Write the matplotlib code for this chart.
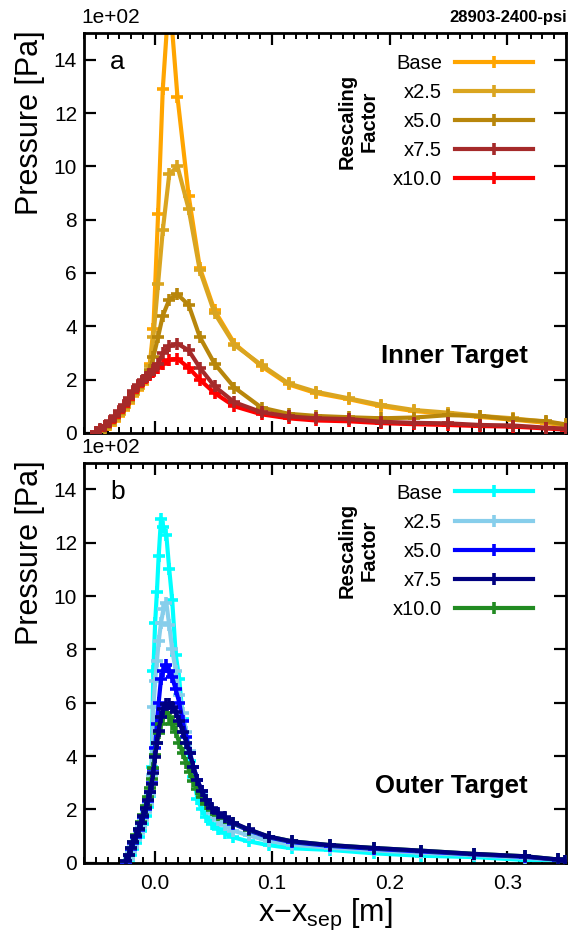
import numpy as np
import matplotlib
matplotlib.use("Agg")
import matplotlib.pyplot as plt
from matplotlib.ticker import MultipleLocator

plt.rcParams['font.family'] = ['Liberation Sans', 'DejaVu Sans']
plt.rcParams['mathtext.fontset'] = 'custom'
plt.rcParams['mathtext.rm'] = 'Liberation Sans'
plt.rcParams['mathtext.it'] = 'Liberation Sans:italic'

# pressure in units of 1e+02 Pa
labels = ['Base', 'x2.5', 'x5.0', 'x7.5', 'x10.0']

x_inner = [-0.050, -0.046, -0.042, -0.038, -0.034, -0.030, -0.026, -0.022, -0.018, -0.014,
           -0.010, -0.007, -0.004, -0.001, 0.003, 0.007, 0.0125, 0.0195, 0.029, 0.0385,
           0.051, 0.068, 0.091, 0.114, 0.137, 0.165, 0.193, 0.221, 0.250, 0.277,
           0.305, 0.333, 0.350]
p_inner_base = [0.0, 0.07, 0.16, 0.30, 0.45, 0.65, 0.87, 1.12, 1.40, 1.62,
                1.85, 2.05, 2.6, 3.9, 8.2, 12.9, 16.5, 12.6, 8.9, 6.2,
                4.6, 3.35, 2.5, 1.82, 1.5, 1.27, 1.0, 0.82, 0.72, 0.6,
                0.5, 0.38, 0.27]
p_inner_x25 = [0.0, 0.08, 0.18, 0.32, 0.48, 0.68, 0.9, 1.15, 1.42, 1.65,
               1.88, 2.05, 2.5, 3.6, 5.6, 7.6, 9.7, 10.0, 8.4, 6.1,
               4.5, 3.3, 2.55, 1.86, 1.55, 1.30, 1.05, 0.86, 0.76, 0.64,
               0.55, 0.42, 0.30]
p_inner_x50 = [0.0, 0.1, 0.22, 0.38, 0.55, 0.75, 0.98, 1.22, 1.5, 1.72,
               1.95, 2.1, 2.35, 2.85, 3.6, 4.4, 5.0, 5.2, 4.8, 3.6,
               2.6, 1.7, 0.95, 0.72, 0.64, 0.59, 0.55, 0.58, 0.67, 0.64,
               0.51, 0.44, 0.32]
p_inner_x75 = [0.03, 0.15, 0.28, 0.45, 0.62, 0.82, 1.05, 1.3, 1.58, 1.8,
               1.98, 2.1, 2.2, 2.35, 2.6, 3.0, 3.25, 3.35, 3.1, 2.45,
               1.75, 1.15, 0.78, 0.62, 0.55, 0.52, 0.42, 0.38, 0.36, 0.30,
               0.28, 0.20, 0.16]
p_inner_x100 = [0.02, 0.13, 0.26, 0.42, 0.6, 0.8, 1.02, 1.28, 1.55, 1.78,
                1.96, 2.08, 2.18, 2.3, 2.45, 2.6, 2.75, 2.78, 2.45, 2.0,
                1.5, 1.0, 0.7, 0.55, 0.47, 0.44, 0.37, 0.33, 0.30, 0.26,
                0.24, 0.17, 0.13]

x_outer = [-0.024, -0.022, -0.020, -0.018, -0.0156, -0.0135, -0.0114, -0.0095, -0.0075, -0.0057,
           -0.004, -0.0025, -0.001, 0.0005, 0.002, 0.0035, 0.0055, 0.0075, 0.010, 0.0125,
           0.015, 0.018, 0.021, 0.024, 0.027, 0.030, 0.033, 0.0365, 0.040, 0.044,
           0.049, 0.054, 0.060, 0.067, 0.080, 0.097, 0.117, 0.149, 0.187, 0.227,
           0.272, 0.315, 0.343, 0.349]
p_outer_base = [0.0, 0.1, 0.3, 0.5, 0.72, 0.95, 1.2, 1.45, 1.75, 2.1,
                2.5, 3.6, 7.2, 9.0, 10.15, 11.5, 12.9, 12.6, 12.3, 11.0,
                9.85, 7.8, 6.9, 5.4, 4.5, 3.8, 3.2, 2.4, 2.0, 1.7,
                1.45, 1.28, 1.1, 0.95, 0.8, 0.66, 0.54, 0.48, 0.35, 0.26,
                0.21, 0.1, 0.08, 0.05]
p_outer_x25 = [0.0, 0.15, 0.4, 0.6, 0.85, 1.1, 1.35, 1.6, 1.9, 2.2,
               2.55, 3.3, 5.85, 6.8, 7.55, 8.3, 9.0, 9.5, 9.75, 8.9,
               8.0, 7.2, 6.3, 5.6, 4.9, 4.2, 3.6, 3.1, 2.6, 2.2,
               1.85, 1.6, 1.4, 1.2, 1.02, 0.82, 0.67, 0.56, 0.46, 0.37,
               0.28, 0.18, 0.10, 0.06]
p_outer_x50 = [0.04, 0.28, 0.52, 0.75, 0.97, 1.22, 1.47, 1.72, 2.02, 2.32,
               2.65, 3.0, 3.5, 4.3, 5.2, 6.0, 6.9, 7.2, 7.4, 7.2,
               6.95, 6.5, 6.0, 5.3, 4.7, 4.1, 3.6, 3.1, 2.7, 2.35,
               2.02, 1.82, 1.66, 1.46, 1.21, 0.95, 0.77, 0.63, 0.52, 0.42,
               0.31, 0.22, 0.11, 0.07]
p_outer_x75 = [0.05, 0.3, 0.55, 0.78, 1.0, 1.25, 1.5, 1.75, 2.05, 2.35,
               2.65, 2.95, 3.35, 3.95, 4.5, 4.95, 5.45, 5.75, 5.95, 5.95,
               5.85, 5.65, 5.3, 4.9, 4.5, 4.1, 3.6, 3.1, 2.7, 2.35,
               2.05, 1.85, 1.7, 1.5, 1.25, 0.98, 0.8, 0.66, 0.55, 0.45,
               0.33, 0.24, 0.12, 0.08]
p_outer_x100 = [0.05, 0.3, 0.55, 0.79, 1.02, 1.27, 1.53, 1.8, 2.12, 2.45,
                2.8, 3.15, 3.55, 4.05, 4.5, 4.85, 5.2, 5.45, 5.6, 5.45,
                5.2, 4.9, 4.5, 4.1, 3.75, 3.4, 3.05, 2.75, 2.45, 2.2,
                1.98, 1.8, 1.67, 1.48, 1.24, 0.98, 0.8, 0.66, 0.55, 0.45,
                0.33, 0.24, 0.12, 0.08]

inner_colors = ['orange', 'goldenrod', 'darkgoldenrod', 'brown', 'red']
outer_colors = ['cyan', 'skyblue', 'blue', 'navy', 'forestgreen']
inner_z = [2, 3, 4, 6, 5]
outer_z = [2, 3, 4, 6, 5]

fig = plt.figure(figsize=(5.7, 9.38), dpi=100)
ax1 = fig.add_axes([0.1474, 0.5384, 0.8456, 0.4264])
ax2 = fig.add_axes([0.1474, 0.0803, 0.8456, 0.4264])


def style_axis(ax, letter, target):
    ax.set_xlim(-0.06, 0.35)
    ax.set_ylim(0, 15)
    ax.xaxis.set_major_locator(MultipleLocator(0.1))
    ax.xaxis.set_minor_locator(MultipleLocator(0.01))
    ax.yaxis.set_major_locator(MultipleLocator(2))
    ax.tick_params(which='both', direction='in', top=True, right=True, labelsize=15)
    ax.tick_params(which='major', length=8.5, width=1.6)
    ax.tick_params(which='minor', length=4.5, width=1.4)
    ax.tick_params(axis='x', pad=8)
    ax.tick_params(axis='y', pad=5)
    for s in ax.spines.values():
        s.set_linewidth(2)
    ax.set_ylabel('Pressure [Pa]', fontsize=22)
    ax.yaxis.set_label_coords(-0.08, 0.775)
    ax.text(-0.006, 1.015, '1e+02', transform=ax.transAxes, fontsize=15, ha='left', va='bottom')
    ax.text(0.054, 0.91, letter, transform=ax.transAxes, fontsize=19, ha='left', va='baseline')
    ax.text(0.921, 0.175, target, transform=ax.transAxes, fontsize=18.5,
            fontweight='bold', ha='right', va='baseline')
    ax.text(0.568, 0.78, 'Rescaling\nFactor', transform=ax.transAxes, fontsize=14.5,
            fontweight='bold', rotation=90, ha='center', va='center', multialignment='center')


series_in = [p_inner_base, p_inner_x25, p_inner_x50, p_inner_x75, p_inner_x100]
series_out = [p_outer_base, p_outer_x25, p_outer_x50, p_outer_x75, p_outer_x100]

for vals, c, z, lab in zip(series_in, inner_colors, inner_z, labels):
    ax1.plot(x_inner, vals, color=c, lw=3, marker='+', ms=9, mew=2.6, zorder=z, label=lab)
for vals, c, z, lab in zip(series_out, outer_colors, outer_z, labels):
    ax2.plot(x_outer, vals, color=c, lw=3, marker='+', ms=9, mew=2.6, zorder=z, label=lab)

style_axis(ax1, 'a', 'Inner Target')
style_axis(ax2, 'b', 'Outer Target')
ax1.tick_params(axis='x', labelbottom=False)

for ax in (ax1, ax2):
    h, l = ax.get_legend_handles_labels()
    ax.legend(h, l, loc='upper right', bbox_to_anchor=(0.931, 0.948), frameon=False,
              markerfirst=False, numpoints=1, fontsize=14.5, handlelength=3.85,
              handletextpad=0.65, labelspacing=0.5, borderpad=0, borderaxespad=0)

ax2.set_xlabel('x−x$_{\\mathrm{sep}}$ [m]', fontsize=22, labelpad=3)
fig.text(0.995, 0.981, '28903-2400-psi', fontsize=12, fontweight='bold', ha='right', va='center')

fig.savefig('out.png', dpi=100)
